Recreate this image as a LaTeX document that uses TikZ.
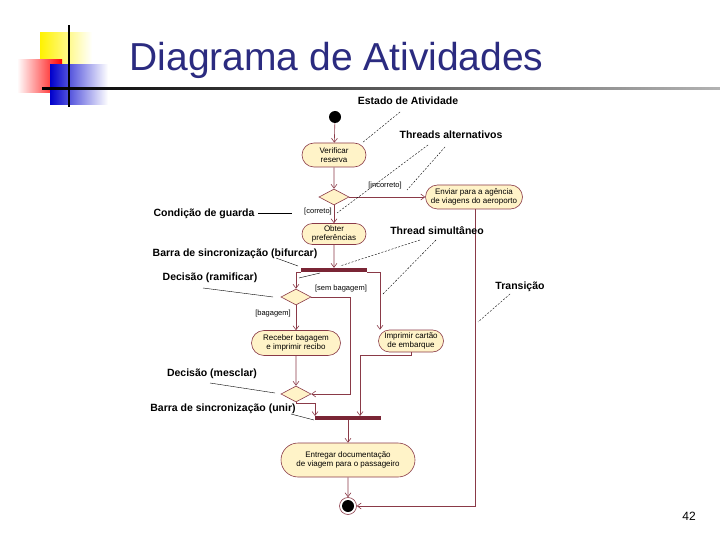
\documentclass[tikz,border=0pt]{standalone}
\usepackage{fontspec}
\setmainfont{Liberation Sans}
\usetikzlibrary{shapes.misc,shapes.geometric,arrows.meta}
\definecolor{ln}{HTML}{8A3A48}
\definecolor{fillc}{HTML}{FFF3C8}
\definecolor{barc}{HTML}{7A2535}
\definecolor{titc}{HTML}{2B2B80}
\tikzset{
 act/.style={rounded rectangle, draw=ln, fill=fillc, line width=0.6pt, inner xsep=4pt, inner ysep=1pt, font=\fontsize{8}{9}\selectfont, align=center},
 dec/.style={diamond, draw=ln, fill=fillc, line width=0.6pt, minimum width=30pt, minimum height=16pt, inner sep=0pt, aspect=2},
 bar/.style={fill=barc, minimum width=66pt, minimum height=4pt, inner sep=0pt},
 fl/.style={draw=ln, line width=0.6pt, -{Straight Barb[length=4pt,width=6pt]}},
 lbl/.style={font=\fontsize{10.5}{12}\selectfont\bfseries},
 grd/.style={font=\fontsize{7.5}{9}\selectfont},
 lead/.style={draw=black, line width=0.4pt},
 dlead/.style={draw=black, line width=0.4pt, dash pattern=on 2pt off 1.5pt},
}
\begin{document}
\begin{tikzpicture}[x=1pt,y=-1pt]
\useasboundingbox (0,0) rectangle (720,540);
% logo
\shade[left color=yellow!90!orange, right color=white] (40,33) rectangle (92,72);
\shade[left color=white, right color=red] (17,60) rectangle (62,93);
\shade[left color=blue!80!black, right color=white] (50,65) rectangle (108,105);
\shade[left color=black, right color=gray!60] (42,88) rectangle (720,90);
\fill[black] (67.5,25) rectangle (69.5,107);
\node[anchor=west, text=titc, font=\fontsize{39}{44}\selectfont] (title) at (126,60) {Diagrama de Atividades};
% nodes
\node[circle, fill=black, minimum size=12pt, inner sep=0pt] (start) at (335,117) {};
\node[act, minimum width=72pt, minimum height=24pt] (ver) at (334,155) {Verificar\\reserva};
\node[dec] (d1) at (334,197) {};
\node[act, minimum width=105pt, minimum height=24pt] (env) at (474,197) {Enviar para a agência\\de viagens do aeroporto};
\node[act, minimum width=72pt, minimum height=21pt] (obt) at (334,234) {Obter\\preferências};
\node[bar] (fork) at (334,270) {};
\node[dec] (d2) at (296,297) {};
\node[act, minimum width=97pt, minimum height=25pt] (rec) at (296,343) {Receber bagagem\\e imprimir recibo};
\node[act, minimum width=73pt, minimum height=22pt] (imp) at (411,341) {Imprimir cartão\\de embarque};
\node[dec] (d3) at (296,394) {};
\node[bar] (join) at (348,418) {};
\node[act, minimum width=142pt, minimum height=34pt] (ent) at (348,460) {Entregar documentação\\de viagem para o passageiro};
\node[circle, draw=ln, line width=0.6pt, minimum size=17pt, inner sep=0pt] (end) at (348,506) {};
\fill[black] (end) circle (6pt);
% flows
\draw[fl] (start) -- (ver);
\draw[fl] (ver) -- (d1);
\draw[fl] (d1.east) -- (env.west);
\draw[fl] (d1) -- (obt);
\draw[fl] (obt) -- (fork);
\draw[fl] (301,272) -- (296,272) -- (d2.north);
\draw[fl] (367,272) -- (380,272) -- (imp.north -| 380,0);
\draw[fl] (d2.east) -- (350,297) -- (350,394) -- (d3.east);
\draw[fl] (d2) -- (rec);
\draw[fl] (rec) -- (d3);
\draw[fl] (d3.south) -- (296,403) -- (315,403) -- (315,416);
\draw[fl] (411,352) -- (411,355) -- (360,355) -- (360,416);
\draw[fl] (join) -- (ent);
\draw[fl] (ent) -- (end);
\draw[fl] (env.south -| 475,0) -- (475,506) -- (end.east);
% guards
\node[grd] (gi) at (385,186) {[incorreto]};
\node[grd] (gc) at (318,212) {[correto]};
\node[grd] (gs) at (341,289) {[sem bagagem]};
\node[grd] (gb) at (273,314) {[bagagem]};
% annotations
\node[lbl] (a1) at (408,101) {Estado de Atividade};
\draw[dlead] (400,112) -- (362,143);
\node[lbl] (a2) at (451,135) {Threads alternativos};
\draw[dlead] (428,145) -- (337,213);
\draw[dlead] (445,147) -- (407,190);
\node[lbl] (a3) at (204,214) {Condição de guarda};
\draw[lead] (258,213) -- (292,213);
\node[lbl] (a4) at (437,231) {Thread simultâneo};
\draw[dlead] (420,240) -- (340,266);
\draw[dlead] (436,240) -- (382,295);
\node[lbl] (a5) at (235,254) {Barra de sincronização (bifurcar)};
\draw[lead] (276,258) -- (298,266);
\node[lbl] (a6) at (210,278) {Decisão (ramificar)};
\draw[lead] (203,288) -- (273,297);
\draw[lead] (320,273) -- (299,278);
\node[lbl] (a7) at (520,287) {Transição};
\draw[dlead] (510,294) -- (478,322);
\node[lbl] (a8) at (212,374) {Decisão (mesclar)};
\draw[lead] (210,383) -- (275,393);
\node[lbl] (a9) at (223,409) {Barra de sincronização (unir)};
\draw[lead] (291,414) -- (314,420);
\node[font=\fontsize{12}{14}\selectfont] (pg) at (689,516) {42};
\end{tikzpicture}
\end{document}
